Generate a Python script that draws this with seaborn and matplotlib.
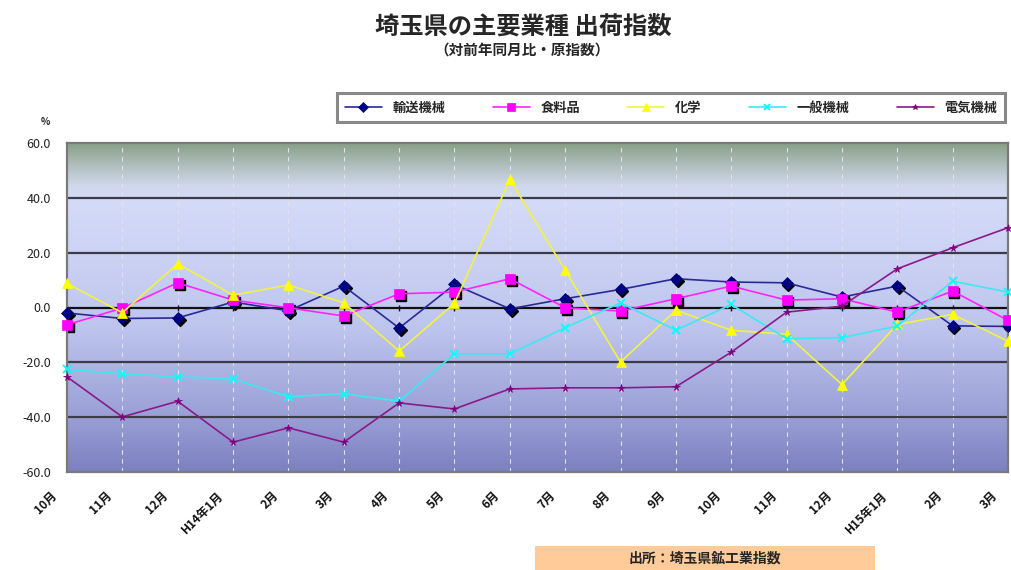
import numpy as np
import pandas as pd
import matplotlib
matplotlib.use("Agg")
import matplotlib.pyplot as plt
import matplotlib.transforms as mtransforms
from matplotlib.colors import LinearSegmentedColormap
from matplotlib.patches import Rectangle
import seaborn as sns

# --- data -----------------------------------------------------------------
months = ["10月", "11月", "12月", "H14年1月", "2月", "3月", "4月", "5月", "6月",
          "7月", "8月", "9月", "10月", "11月", "12月", "H15年1月", "2月", "3月"]

transport = [-2.0, -4.0, -3.8, 2.0, -1.2, 7.8, -7.5, 8.4, -0.5,
             3.2, 6.6, 10.5, 9.3, 9.0, 3.8, 7.8, -6.7, -6.9]
food = [-6.3, -0.2, 9.0, 2.7, -0.1, -3.1, 5.0, 5.6, 10.5,
        -0.1, -1.3, 3.2, 7.8, 2.7, 3.2, -1.7, 6.0, -4.7]
chemical = [8.8, -1.9, 16.0, 4.5, 8.2, 1.7, -15.9, 1.5, 46.7,
            13.6, -19.9, -1.0, -8.3, -9.8, -28.1, -6.2, -2.5, -12.3]
machinery = [-22.6, -24.2, -25.3, -26.0, -32.6, -31.4, -34.2, -16.9, -16.9,
             -7.4, 1.7, -8.3, 1.1, -11.4, -11.0, -6.8, 9.6, 5.6]
electrical = [-25.3, -39.9, -34.2, -49.1, -43.9, -49.1, -34.8, -37.0, -29.7,
              -29.3, -29.3, -28.9, -16.3, -1.7, 0.5, 14.1, 21.8, 29.1]

series_names = ["輸送機械", "食料品", "化学", "一般機械", "電気機械"]
series_values = [transport, food, chemical, machinery, electrical]
y_ticks = [-60, -40, -20, 0, 20, 40, 60]

# --- style ----------------------------------------------------------------
sns.set_theme(style="white")
plt.rcParams["font.family"] = ["Noto Sans CJK JP", "DejaVu Sans"]

colors = ["#000080", "#ff00ff", "#ffff00", "#00ffff", "#800080"]
line_colors = ["#2a2a96", "#ff22ff", "#f2f246", "#3de8f0", "#8a1a8a"]
markers = ["D", "s", "^", "x", "*"]
msizes = [6.5, 7.5, 7.5, 5.5, 5.5]
shadowed = [True, True, False, False, False]

fig = plt.figure(figsize=(10.11, 5.70), dpi=100)
ax = fig.add_axes([67 / 1011, 1 - 472 / 570, 941 / 1011, 329 / 570])

x = np.arange(len(months))
ax.set_xlim(0, len(months) - 1)
ax.set_ylim(-60, 60)

# gradient plot background
stops = [(0.0, "#7c80c0"), (0.17, "#9aa0d6"), (0.45, "#bfc6ee"),
         (0.82, "#d4dbf8"), (0.87, "#d0d8ee"), (0.93, "#b2c0c0"),
         (1.0, "#8aa088")]
cmap = LinearSegmentedColormap.from_list("bg", stops)
grad = np.linspace(0, 1, 256).reshape(-1, 1)
ax.imshow(grad, cmap=cmap, origin="lower", aspect="auto",
          extent=(0, len(months) - 1, -60, 60), zorder=0)

# grid
for xv in x[1:-1]:
    ax.axvline(xv, color="#e2e2ec", lw=0.8, ls=(0, (4, 4)), zorder=1)
for yv in [-40, -20, 20, 40]:
    ax.axhline(yv, color="#3c3c48", lw=1.6, zorder=1)
ax.axhline(0, color="#111111", lw=1.6, zorder=1)
ax.plot(x, np.zeros_like(x), ls="none", marker="|", ms=4, color="#111111", zorder=1)

# long-form table for seaborn
df = pd.DataFrame({
    "idx": np.tile(x, len(series_names)),
    "value": np.concatenate(series_values),
    "series": np.repeat(series_names, len(months)),
})

shadow_tf = mtransforms.offset_copy(ax.transData, fig=fig, x=1.8, y=-1.8, units="dots")

for name, col, lcol, mk, ms, sh in zip(series_names, colors, line_colors, markers, msizes, shadowed):
    sub = df[df["series"] == name]
    if sh:
        ax.plot(sub["idx"], sub["value"], ls="none", marker=mk, ms=ms,
                color="black", transform=shadow_tf, zorder=2)
    sns.lineplot(data=sub, x="idx", y="value", ax=ax, color=lcol, lw=1.2,
                 marker=mk, markersize=ms, markerfacecolor=col,
                 markeredgecolor=col, markeredgewidth=1.3 if mk == "x" else 0.5,
                 label=name, zorder=3, clip_on=False)

# axes cosmetics
for s in ax.spines.values():
    s.set_color("#7a7a7a")
    s.set_linewidth(1.6)
ax.set_xlabel("")
ax.set_ylabel("")
ax.set_yticks(y_ticks)
ax.set_yticklabels([f"{v:.1f}" for v in y_ticks], fontsize=9, color="#222222")
ax.tick_params(axis="y", length=0, pad=26)
for lab in ax.get_yticklabels():
    lab.set_horizontalalignment("right")
    lab.set_transform(lab.get_transform() + mtransforms.ScaledTranslation(20 / 100, 0, fig.dpi_scale_trans))

ax.set_xticks(x)
ax.set_xticklabels(months, rotation=45, ha="right", va="center",
                   rotation_mode="anchor", fontsize=8.5, fontweight="bold",
                   color="#111111")
ax.tick_params(axis="x", length=0, pad=0)
for lab in ax.get_xticklabels():
    lab.set_transform(lab.get_transform() + mtransforms.ScaledTranslation(-12 / 100, -22 / 100, fig.dpi_scale_trans))

fig.text(45 / 1011, 1 - 122 / 570, "%", fontsize=7, fontweight="bold", ha="center", va="center")

# legend
leg = ax.legend(loc="center", ncol=5, mode="expand",
                bbox_to_anchor=(337 / 1011, 1 - 127 / 570, 668 / 1011, 39 / 570),
                bbox_transform=fig.transFigure, fontsize=9.5, handlelength=2.8,
                markerscale=0.75, frameon=True, fancybox=False,
                borderaxespad=0, borderpad=0.6)
frame = leg.get_frame()
frame.set_edgecolor("#6a6a6a")
frame.set_linewidth(2.2)
frame.set_facecolor("white")
for t in leg.get_texts():
    t.set_fontweight("bold")

# titles
fig.text(523 / 1011, 1 - 27 / 570, "埼玉県の主要業種 出荷指数", fontsize=17.5,
         fontweight="bold", ha="center", va="center")
fig.text(522 / 1011, 1 - 50 / 570, "（対前年同月比・原指数）", fontsize=10.5,
         fontweight="bold", ha="center", va="center")

# source box
fig.patches.append(Rectangle((535 / 1011, 0), 340 / 1011, 24 / 570,
                             transform=fig.transFigure, facecolor="#ffcc99",
                             edgecolor="none", zorder=0))
fig.text(705 / 1011, 1 - 558 / 570, "出所：埼玉県鉱工業指数", fontsize=10,
         fontweight="bold", ha="center", va="center")

fig.savefig("out.png", dpi=100)
